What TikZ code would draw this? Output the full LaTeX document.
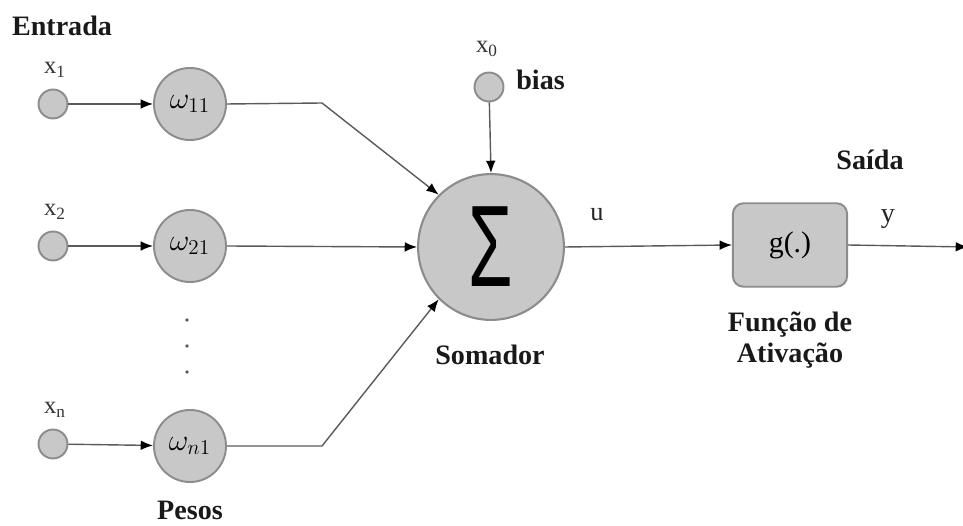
\documentclass[tikz,border=0pt]{standalone}
\usepackage{fontspec}
\setmainfont{Liberation Serif}
\newfontfamily\sigmafont{Liberation Sans}
\usetikzlibrary{arrows.meta}

\definecolor{nodefill}{HTML}{C8C8C8}
\definecolor{nodeedge}{HTML}{8C8C8C}
\definecolor{wire}{HTML}{5A5A5A}
\definecolor{labelgray}{HTML}{333333}

% weight symbol with a slightly enlarged index
\newcommand{\wsym}[1]{$\omega_{\mbox{\fontsize{12.5}{12.5}\selectfont$#1$}}$}

\tikzset{
  inputdot/.style={circle, draw=nodeedge, fill=nodefill, line width=1.1pt,
                   minimum size=16.5pt, inner sep=0pt},
  weight/.style={circle, draw=nodeedge, fill=nodefill, line width=1.1pt,
                 minimum size=41pt, inner sep=0pt, font=\fontsize{17}{17}\selectfont},
  summer/.style={circle, draw=nodeedge, fill=nodefill, line width=1.2pt,
                 minimum size=83pt, inner sep=0pt},
  actbox/.style={rectangle, rounded corners=6pt, draw=nodeedge, fill=nodefill,
                 line width=1.1pt, minimum width=65pt, minimum height=47.5pt,
                 inner sep=0pt, font=\fontsize{17}{17}\selectfont},
  varlabel/.style={text=labelgray, font=\fontsize{14}{14}\selectfont, inner sep=0pt},
  title/.style={font=\bfseries\fontsize{16}{18}\selectfont, inner sep=0pt,
                align=center, text=black!90},
  wirearrow/.style={draw=wire, line width=0.8pt,
                    -{Latex[length=7pt,width=5.5pt,color=black]}},
  ellipsisdot/.style={circle, fill=wire, inner sep=0pt, minimum size=2pt}
}

\begin{document}
\begin{tikzpicture}[x=0.02cm, y=-0.02cm]
  \useasboundingbox (0,0) rectangle (963,526);

  % section headings
  \node[title] (hin)  at (62,26)  {Entrada};
  \node[title] (hw)   at (190,510) {Pesos};
  \node[title] (hsum) at (490,355) {Somador};
  \node[title] (hout) at (870,160) {Saída};
  \node[title] (hact) at (790,340) {Função de\\Ativação};

  % inputs
  \node[inputdot] (x1) at (53,104) {};
  \node[inputdot] (x2) at (53,246) {};
  \node[inputdot] (xn) at (53,444) {};
  \node[varlabel] (lx1) at (55,70)  {x\textsubscript{1}};
  \node[varlabel] (lx2) at (55,212) {x\textsubscript{2}};
  \node[varlabel] (lxn) at (55,410) {x\textsubscript{n}};

  % weights
  \node[weight] (w11) at (190,104) {\wsym{11}};
  \node[weight] (w21) at (190,246) {\wsym{21}};
  \node[weight] (wn1) at (190,446) {\wsym{n1}};

  % vertical ellipsis between the weights
  \node[ellipsisdot] (d1) at (187,320) {};
  \node[ellipsisdot] (d2) at (187,346) {};
  \node[ellipsisdot] (d3) at (187,372) {};

  % bias input
  \node[inputdot] (x0) at (489,87) {};
  \node[varlabel] (lx0) at (487,49) {x\textsubscript{0}};
  \node[title, anchor=west] (lbias) at (516,80) {bias};

  % summing junction
  \node[summer] (sum) at (491,247)
    {\sigmafont\scalebox{0.62}[1]{\fontsize{66}{66}\selectfont Σ}};

  % activation function
  \node[actbox] (g) at (790,245) {g(.)};

  % signal labels
  \node[varlabel, text=black!85, font=\fontsize{15}{15}\selectfont] (lu) at (597,215) {u};
  \node[varlabel, text=black!85, font=\fontsize{16}{16}\selectfont] (ly) at (888,219) {y};

  % bends and output end
  \coordinate (b1) at (322,103);
  \coordinate (bn) at (322,446);
  \coordinate (out) at (968,247);

  % connectors
  \draw[wirearrow] (x1) -- (w11);
  \draw[wirearrow] (x2) -- (w21);
  \draw[wirearrow] (xn) -- (wn1);
  \draw[wirearrow] (w11.east) -- (b1) -- (sum.135);
  \draw[wirearrow] (w21.east) -- (sum.west);
  \draw[wirearrow] (wn1.east) -- (bn) -- (sum.225);
  \draw[wirearrow] (x0) -- (sum.north);
  \draw[wirearrow] (sum.east) -- (g.west);
  \draw[wirearrow] (g.east) -- (out);
\end{tikzpicture}
\end{document}
